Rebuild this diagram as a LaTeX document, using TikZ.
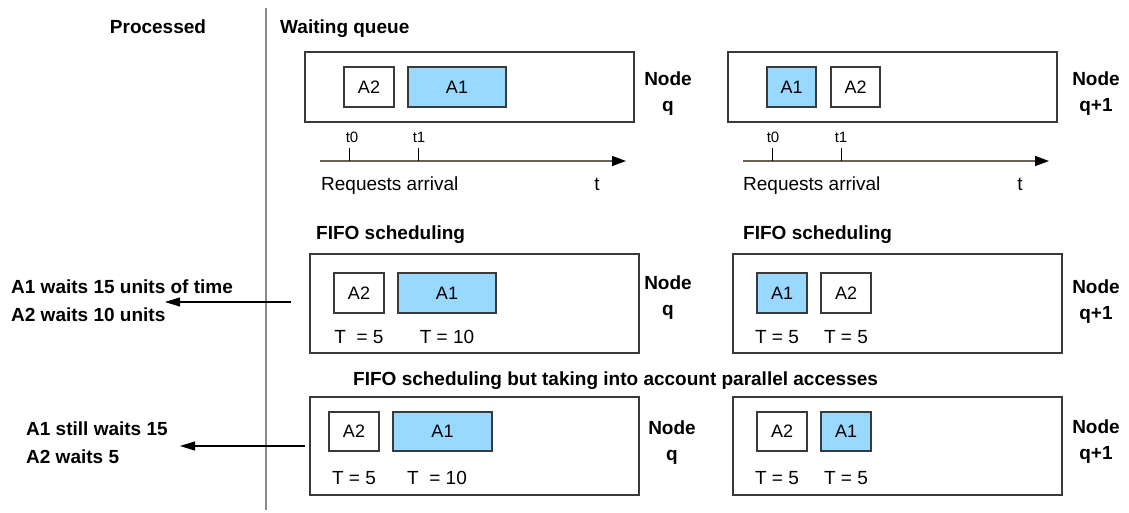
\documentclass[tikz,border=0pt]{standalone}
\usepackage{fontspec}
\setmainfont{Liberation Sans}
\usetikzlibrary{arrows.meta}
\definecolor{reqblue}{HTML}{99D8FF}
\definecolor{axiscol}{HTML}{6B6150}
\definecolor{boxcol}{HTML}{3A3A3A}
\tikzset{
  bold/.style={font=\fontsize{19}{23}\selectfont\bfseries, inner sep=0pt},
  plain/.style={font=\fontsize{19}{23}\selectfont, inner sep=0pt},
  small/.style={font=\fontsize{15}{17}\selectfont, inner sep=0pt},
  queue/.style={draw=boxcol, line width=1.1pt, inner sep=0pt},
  req/.style={draw=boxcol, line width=1.1pt, inner sep=0pt, minimum height=40pt, font=\fontsize{18}{21}\selectfont},
  reqA/.style={req, fill=reqblue},
  nodelab/.style={font=\fontsize{19}{26}\selectfont\bfseries, align=center, inner sep=0pt},
  axis/.style={draw=axiscol, line width=1.3pt, -{Triangle[length=14pt,width=10pt,fill=black,color=black]}},
  tick/.style={draw=black, line width=1pt},
  result/.style={draw=black, line width=1.1pt, -{Triangle[length=15pt,width=9pt]}},
  sep/.style={draw=gray!90, line width=1.6pt}
}
\begin{document}
\begin{tikzpicture}[x=1pt,y=-1pt]
\useasboundingbox (0,0) rectangle (1129,512);

% headers
\node[bold, anchor=base] (processed) at (158,33) {Processed};
\node[bold, anchor=base west] (waiting) at (280,33) {Waiting queue};
\coordinate (septop) at (266,8);
\coordinate (sepbot) at (266,510);
\draw[sep] (septop) -- (sepbot);

% ---------- top row ----------
\node[queue, minimum width=329pt, minimum height=70pt] (q1) at (469.5,87) {};
\node[req, minimum width=50pt] (q1a2) at (369,87) {A2};
\node[reqA, minimum width=98pt] (q1a1) at (457,87) {A1};
\node[nodelab] (q1lab) at (668,94) {Node\\q};

\node[queue, minimum width=329pt, minimum height=70pt] (q2) at (892.5,87) {};
\node[reqA, minimum width=49pt] (q2a1) at (791.5,87) {A1};
\node[req, minimum width=49pt] (q2a2) at (855.5,87) {A2};
\node[nodelab] (q2lab) at (1096,94) {Node\\q+1};

% time axes
\coordinate (ax1s) at (320,161);
\coordinate (ax1e) at (626,161);
\draw[axis] (ax1s) -- (ax1e);
\coordinate (t01b) at (349,161); \coordinate (t01t) at (349,148);
\coordinate (t11b) at (418,161); \coordinate (t11t) at (418,148);
\draw[tick] (t01b) -- (t01t);
\draw[tick] (t11b) -- (t11t);
\node[small, anchor=base] (t0a) at (352,142) {t0};
\node[small, anchor=base] (t1a) at (419,142) {t1};
\node[plain, anchor=base west] (reqa) at (321,190) {Requests arrival};
\node[plain, anchor=base] (ta) at (597,190) {t};

\coordinate (ax2s) at (743,161);
\coordinate (ax2e) at (1049,161);
\draw[axis] (ax2s) -- (ax2e);
\coordinate (t02b) at (772,161); \coordinate (t02t) at (772,148);
\coordinate (t12b) at (841,161); \coordinate (t12t) at (841,148);
\draw[tick] (t02b) -- (t02t);
\draw[tick] (t12b) -- (t12t);
\node[small, anchor=base] (t0b) at (773,142) {t0};
\node[small, anchor=base] (t1b) at (841,142) {t1};
\node[plain, anchor=base west] (reqb) at (743,190) {Requests arrival};
\node[plain, anchor=base] (tb) at (1020,190) {t};

% ---------- middle row ----------
\node[bold, anchor=base west] (fifo1) at (316,239) {FIFO scheduling};
\node[bold, anchor=base west] (fifo2) at (743,239) {FIFO scheduling};

\node[queue, minimum width=329pt, minimum height=99pt] (m1) at (474.5,303.5) {};
\node[req, minimum width=50pt] (m1a2) at (359,293) {A2};
\node[reqA, minimum width=98pt] (m1a1) at (447,293) {A1};
\node[plain] (m1t5) at (359,337) {T\ \ = 5};
\node[plain] (m1t10) at (447,337) {T = 10};
\node[nodelab] (m1lab) at (668,298) {Node\\q};

\node[queue, minimum width=329pt, minimum height=99pt] (m2) at (897.5,303.5) {};
\node[reqA, minimum width=50pt] (m2a1) at (782,293) {A1};
\node[req, minimum width=50pt] (m2a2) at (846,293) {A2};
\node[plain] (m2t5a) at (777,337) {T = 5};
\node[plain] (m2t5b) at (846,337) {T = 5};
\node[nodelab] (m2lab) at (1096,302) {Node\\q+1};

\coordinate (r1s) at (291,302);
\coordinate (r1e) at (165,302);
\draw[result] (r1s) -- (r1e);
\node[bold, anchor=west] (res1a) at (11,287) {A1 waits 15 units of time};
\node[bold, anchor=west] (res1b) at (11,315) {A2 waits 10 units};

% ---------- bottom row ----------
\node[bold, anchor=base west] (fifo3) at (353,385) {FIFO scheduling but taking into account parallel accesses};

\node[queue, minimum width=329pt, minimum height=98pt] (b1) at (474.5,446) {};
\node[req, minimum width=50pt, minimum height=39pt] (b1a2) at (354,431.5) {A2};
\node[reqA, minimum width=99pt, minimum height=39pt] (b1a1) at (442.5,431.5) {A1};
\node[plain] (b1t5) at (354,478) {T = 5};
\node[plain] (b1t10) at (437,478) {T\ \ = 10};
\node[nodelab] (b1lab) at (672,443) {Node\\q};

\node[queue, minimum width=329pt, minimum height=98pt] (b2) at (897.5,446) {};
\node[req, minimum width=50pt, minimum height=39pt] (b2a2) at (782,431.5) {A2};
\node[reqA, minimum width=50pt, minimum height=39pt] (b2a1) at (846,431.5) {A1};
\node[plain] (b2t5a) at (777,478) {T = 5};
\node[plain] (b2t5b) at (846,478) {T = 5};
\node[nodelab] (b2lab) at (1096,442) {Node\\q+1};

\coordinate (r2s) at (305,446);
\coordinate (r2e) at (180,446);
\draw[result] (r2s) -- (r2e);
\node[bold, anchor=west] (res2a) at (26,429) {A1 still waits 15};
\node[bold, anchor=west] (res2b) at (26,457) {A2 waits 5};
\end{tikzpicture}
\end{document}
